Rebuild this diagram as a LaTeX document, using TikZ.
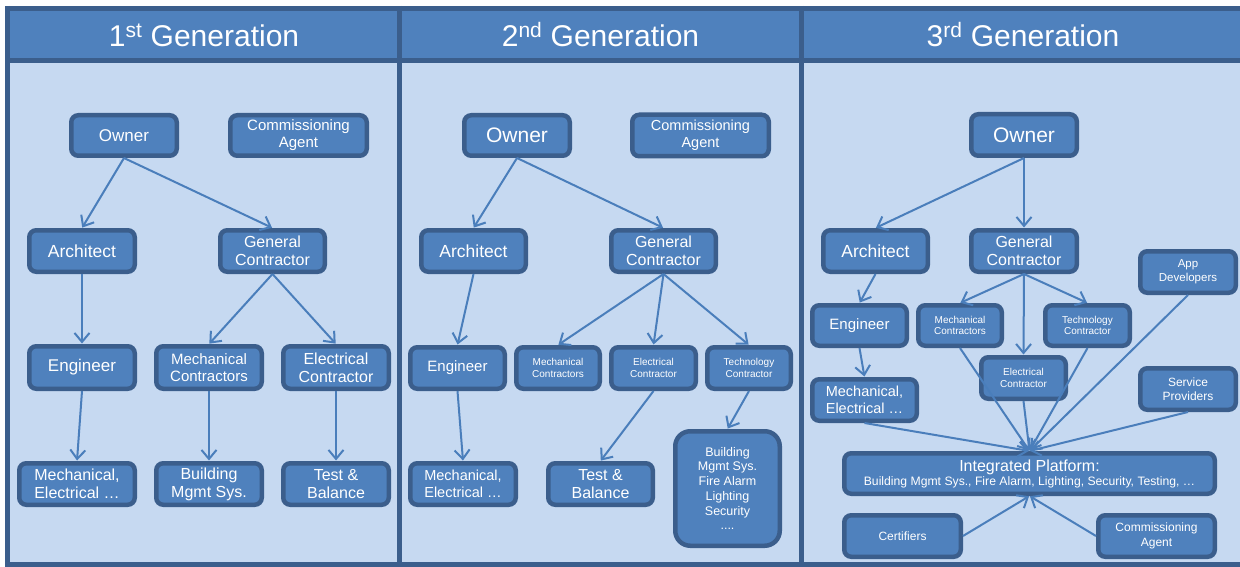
\documentclass[tikz,border=0pt]{standalone}
\usepackage{fontspec}
\setmainfont{Liberation Sans}
\usetikzlibrary{arrows.meta}
\definecolor{bdark}{HTML}{3B5E8C}
\definecolor{bmid}{HTML}{4F81BD}
\definecolor{blight}{HTML}{C6D9F1}
\definecolor{arrc}{HTML}{4A7EBB}
\newcommand{\myfs}[2]{\fontsize{#1}{#2}\selectfont}
\begin{document}
\begin{tikzpicture}[x=1pt,y=-1pt,
  box/.style={draw=bdark, fill=bmid, line width=4.5pt, rounded corners=7pt,
    text=white, align=center, inner sep=0pt},
  sz/.style 2 args={minimum width={#1pt-4.5pt}, minimum height={#2pt-4.5pt}},
  arr/.style={draw=arrc, line width=2pt, shorten >=0.5pt,
    -{Straight Barb[length=9pt,width=15pt]}},
  hdr/.style={text=white, font=\myfs{30}{34}, anchor=base},
  frame/.style={draw=bdark, line width=5pt}
]
\useasboundingbox (0,0) rectangle (1240,567);
\clip (0,0) rectangle (1240,567);
% panels
\fill[blight] (5,6) rectangle (1250,570);
\fill[bmid] (5,6) rectangle (1250,61);
\draw[frame] (5,8.5) -- (1250,8.5);
\draw[frame] (5,61) -- (1250,61);
\draw[frame] (5,564.5) -- (1250,564.5);
\draw[frame] (7.5,6) -- (7.5,570);
\draw[frame] (399.5,6) -- (399.5,570);
\draw[frame] (801.5,6) -- (801.5,570);
\node[hdr] (h1) at (204,47) {1\textsuperscript{st} Generation};
\node[hdr] (h2) at (600.5,47) {2\textsuperscript{nd} Generation};
\node[hdr] (h3) at (1023,47) {3\textsuperscript{rd} Generation};

% ---------- panel 1
\node[box, sz={110}{45}, font=\myfs{17}{19}] (o1) at (124,135.5) {Owner};
\node[box, sz={141}{45}, font=\myfs{15}{17}] (ca1) at (298.5,135.5) {Commissioning\\Agent};
\node[box, sz={110}{46}, font=\myfs{17.5}{19}] (a1) at (82,251) {Architect};
\node[box, sz={109}{46}, font=\myfs{16}{18}] (g1) at (272.5,251) {General\\Contractor};
\node[box, sz={110}{47}, font=\myfs{17}{19}] (e1) at (82,367.5) {Engineer};
\node[box, sz={110}{47}, font=\myfs{15}{17}] (mc1) at (209,367.5) {Mechanical\\Contractors};
\node[box, sz={110}{47}, font=\myfs{16}{18}] (ec1) at (336,367.5) {Electrical\\Contractor};
\node[box, sz={120}{46}, font=\myfs{16}{18}] (me1) at (77,484) {Mechanical,\\Electrical …};
\node[box, sz={110}{46}, font=\myfs{16}{18}] (bm1) at (209,484) {Building\\Mgmt Sys.};
\node[box, sz={110}{46}, font=\myfs{16}{18}] (tb1) at (336,484) {Test \&\\Balance};

% ---------- panel 2
\node[box, sz={110}{45}, font=\myfs{21}{23}] (o2) at (517,135.5) {Owner};
\node[box, sz={141}{46}, font=\myfs{14.5}{17}] (ca2) at (700.5,135.5) {Commissioning\\Agent};
\node[box, sz={109}{46}, font=\myfs{17.5}{19}] (a2) at (473.5,251) {Architect};
\node[box, sz={109}{46}, font=\myfs{16}{18}] (g2) at (663.5,251) {General\\Contractor};
\node[box, sz={99}{46}, font=\myfs{15}{17}] (e2) at (457.5,368) {Engineer};
\node[box, sz={88}{46}, font=\myfs{10}{11.5}] (mc2) at (558,368) {Mechanical\\Contractors};
\node[box, sz={89}{46}, font=\myfs{10}{11.5}] (ec2) at (653.5,368) {Electrical\\Contractor};
\node[box, sz={88}{46}, font=\myfs{10}{11.5}] (tc2) at (749,368) {Technology\\Contractor};
\node[box, sz={110}{46}, font=\myfs{14.5}{17}] (me2) at (463,484) {Mechanical,\\Electrical …};
\node[box, sz={109}{46}, font=\myfs{16}{18}] (tb2) at (600.5,484) {Test \&\\Balance};
\node[box, sz={109}{119}, rounded corners=15pt, font=\myfs{12.5}{14.7}] (bs2) at (727.5,488.5)
  {Building\\Mgmt Sys.\\Fire Alarm\\Lighting\\Security\\....};

% ---------- panel 3
\node[box, sz={110}{46}, font=\myfs{21}{23}] (o3) at (1024,135) {Owner};
\node[box, sz={109}{46}, font=\myfs{17.5}{19}] (a3) at (875.5,251) {Architect};
\node[box, sz={110}{46}, font=\myfs{16}{18}] (g3) at (1024,251) {General\\Contractor};
\node[box, sz={100}{46}, font=\myfs{11.5}{14}] (ad3) at (1188,272) {App\\Developers};
\node[box, sz={99}{45}, font=\myfs{15}{17}] (e3) at (859.5,325.5) {Engineer};
\node[box, sz={88}{45}, font=\myfs{10}{11.5}] (mc3) at (960,325.5) {Mechanical\\Contractors};
\node[box, sz={89}{45}, font=\myfs{10}{11.5}] (tc3) at (1087.5,325.5) {Technology\\Contractor};
\node[box, sz={89}{46}, font=\myfs{10}{11.5}] (ec3) at (1023.5,378) {Electrical\\Contractor};
\node[box, sz={109}{46}, font=\myfs{14.5}{17}] (me3) at (864.5,400) {Mechanical,\\Electrical …};
\node[box, sz={100}{46}, font=\myfs{12}{14.5}] (sp3) at (1188,389) {Service\\Providers};
\node[box, sz={375}{45}, font=\myfs{16}{14}] (ip3) at (1029.5,473.5)
  {Integrated Platform:\\{\myfs{12.2}{14}Building Mgmt  Sys., Fire Alarm, Lighting,  Security, Testing, …}};
\node[box, sz={121}{46}, font=\myfs{12}{14.5}] (ce3) at (902.5,536) {Certifiers};
\node[box, sz={121}{46}, font=\myfs{12}{14.5}] (ca3) at (1156.5,536) {Commissioning\\Agent};

% ---------- arrows panel 1
\draw[arr] (o1.south) -- (a1.north);
\draw[arr] (o1.south) -- (g1.north);
\draw[arr] (a1.south) -- (e1.north);
\draw[arr] (g1.south) -- (mc1.north);
\draw[arr] (g1.south) -- (ec1.north);
\draw[arr] (e1.south) -- (me1.north);
\draw[arr] (mc1.south) -- (bm1.north);
\draw[arr] (ec1.south) -- (tb1.north);
% ---------- arrows panel 2
\draw[arr] (o2.south) -- (a2.north);
\draw[arr] (o2.south) -- (g2.north);
\draw[arr] (a2.south) -- (e2.north);
\draw[arr] (g2.south) -- (mc2.north);
\draw[arr] (g2.south) -- (ec2.north);
\draw[arr] (g2.south) -- (tc2.north);
\draw[arr] (e2.south) -- (me2.north);
\draw[arr] (ec2.south) -- (tb2.north);
\draw[arr] (tc2.south) -- (bs2.north);
% ---------- arrows panel 3
\draw[arr] (o3.south) -- (a3.north);
\draw[arr] (o3.south) -- (g3.north);
\draw[arr] (a3.south) -- (e3.north);
\draw[arr] (g3.south) -- (mc3.north);
\draw[arr] (g3.south) -- (ec3.north);
\draw[arr] (g3.south) -- (tc3.north);
\draw[arr] (e3.south) -- (me3.north);
\draw[arr] (me3.south) -- (ip3.north);
\draw[arr] (mc3.south) -- (ip3.north);
\draw[arr] (ec3.south) -- (ip3.north);
\draw[arr] (tc3.south) -- (ip3.north);
\draw[arr] (ad3.south) -- (ip3.north);
\draw[arr] (sp3.south) -- (ip3.north);
\draw[arr] (ce3.east) -- (ip3.south);
\draw[arr] (ca3.west) -- (ip3.south);
\end{tikzpicture}
\end{document}
